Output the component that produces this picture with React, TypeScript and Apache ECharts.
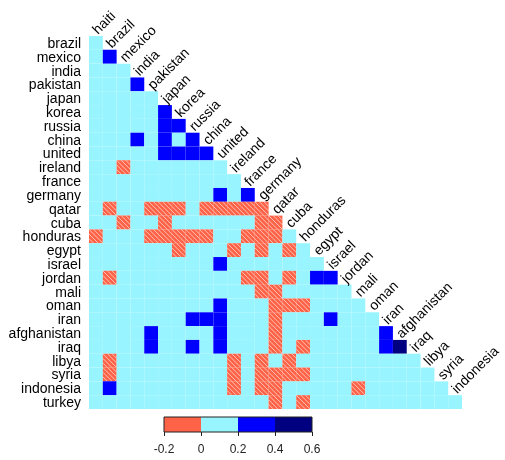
import React, { useEffect, useRef } from "react";
import * as echarts from "echarts";

const rowNames = [
  "brazil", "mexico", "india", "pakistan", "japan", "korea", "russia", "china", "united",
  "ireland", "france", "germany", "qatar", "cuba", "honduras", "egypt", "israel", "jordan",
  "mali", "oman", "iran", "afghanistan", "iraq", "libya", "syria", "indonesia", "turkey",
];

const colNames = [
  "haiti", "brazil", "mexico", "india", "pakistan", "japan", "korea", "russia", "china",
  "united", "ireland", "france", "germany", "qatar", "cuba", "honduras", "egypt", "israel",
  "jordan", "mali", "oman", "iran", "afghanistan", "iraq", "libya", "syria", "indonesia",
];

// lower-triangle values, one array per row (column haiti .. the column before the row)
const rowValues: number[][] = [
  [0.1],
  [0.1, 0.3],
  [0.1, 0.1, 0.1],
  [0.1, 0.1, 0.1, 0.3],
  [0.1, 0.1, 0.1, 0.1, 0.1],
  [0.1, 0.1, 0.1, 0.1, 0.1, 0.3],
  [0.1, 0.1, 0.1, 0.1, 0.1, 0.3, 0.3],
  [0.1, 0.1, 0.1, 0.3, 0.1, 0.3, 0.1, 0.3],
  [0.1, 0.1, 0.1, 0.1, 0.1, 0.3, 0.3, 0.3, 0.3],
  [0.1, 0.1, -0.1, 0.1, 0.1, 0.1, 0.1, 0.1, 0.1, 0.1],
  [0.1, 0.1, 0.1, 0.1, 0.1, 0.1, 0.1, 0.1, 0.1, 0.1, 0.1],
  [0.1, 0.1, 0.1, 0.1, 0.1, 0.1, 0.1, 0.1, 0.1, 0.3, 0.1, 0.3],
  [0.1, -0.1, 0.1, 0.1, -0.1, -0.1, -0.1, 0.1, -0.1, -0.1, -0.1, -0.1, -0.1],
  [0.1, 0.1, -0.1, 0.1, 0.1, -0.1, 0.1, 0.1, 0.1, 0.1, 0.1, 0.1, -0.1, -0.1],
  [-0.1, 0.1, 0.1, 0.1, -0.1, -0.1, -0.1, -0.1, -0.1, 0.1, 0.1, -0.1, -0.1, -0.1, 0.1],
  [0.1, 0.1, 0.1, 0.1, 0.1, 0.1, -0.1, 0.1, 0.1, 0.1, -0.1, 0.1, -0.1, 0.1, -0.1, 0.1],
  [0.1, 0.1, 0.1, 0.1, 0.1, 0.1, 0.1, 0.1, 0.1, 0.3, 0.1, 0.1, 0.1, 0.1, 0.1, 0.1, 0.1],
  [0.1, -0.1, 0.1, 0.1, 0.1, 0.1, 0.1, 0.1, 0.1, 0.1, 0.1, -0.1, -0.1, 0.1, -0.1, 0.1, 0.3, 0.3],
  [0.1, 0.1, 0.1, 0.1, 0.1, 0.1, 0.1, 0.1, 0.1, 0.1, 0.1, 0.1, -0.1, -0.1, 0.1, 0.1, 0.1, 0.1, 0.1],
  [0.1, 0.1, 0.1, 0.1, 0.1, 0.1, 0.1, 0.1, 0.1, 0.3, 0.1, 0.1, 0.1, -0.1, -0.1, -0.1, 0.1, 0.1, 0.1, 0.1],
  [0.1, 0.1, 0.1, 0.1, 0.1, 0.1, 0.1, 0.3, 0.3, 0.3, 0.1, 0.1, 0.1, -0.1, 0.1, 0.1, 0.1, 0.3, 0.1, 0.1, 0.1],
  [0.1, 0.1, 0.1, 0.1, 0.3, 0.1, 0.1, 0.1, 0.1, 0.3, 0.1, 0.1, 0.1, -0.1, 0.1, 0.1, 0.1, 0.1, 0.1, 0.1, 0.1, 0.3],
  [0.1, 0.1, 0.1, 0.1, 0.3, 0.1, 0.1, 0.3, 0.1, 0.3, 0.1, 0.1, 0.1, -0.1, 0.1, -0.1, 0.1, 0.1, 0.1, 0.1, 0.1, 0.3, 0.5],
  [0.1, -0.1, 0.1, 0.1, 0.1, 0.1, 0.1, 0.1, 0.1, 0.1, -0.1, 0.1, -0.1, 0.1, -0.1, 0.1, 0.1, 0.1, 0.1, 0.1, 0.1, 0.1, 0.1, 0.1],
  [0.1, -0.1, 0.1, 0.1, 0.1, 0.1, 0.1, 0.1, 0.1, 0.1, -0.1, 0.1, -0.1, -0.1, -0.1, -0.1, 0.1, 0.1, 0.1, 0.1, 0.1, 0.1, 0.1, 0.1, 0.1],
  [0.1, 0.3, 0.1, 0.1, 0.1, 0.1, 0.1, 0.1, 0.1, 0.1, -0.1, 0.1, -0.1, -0.1, 0.1, 0.1, 0.1, 0.1, 0.1, -0.1, 0.1, 0.1, 0.1, 0.1, 0.1, 0.1],
  [0.1, 0.1, 0.1, 0.1, 0.1, 0.1, 0.1, 0.1, 0.1, 0.1, 0.1, 0.1, 0.1, -0.1, 0.1, -0.1, 0.1, 0.1, 0.1, 0.1, 0.1, 0.1, 0.1, 0.1, 0.1, 0.1, 0.1],
];

const legendBreaks = [-0.2, 0, 0.2, 0.4, 0.6];
const legendColors = ["#FF6347", "#98F5FF", "#0000FF", "#000080"];

const FONT = '"Liberation Sans", Arial, Helvetica, sans-serif';

function binIndex(v: number): number {
  for (let i = 0; i < legendColors.length; i++) {
    if (v < legendBreaks[i + 1]) return i;
  }
  return legendColors.length - 1;
}

export default function App() {
  const ref = useRef<HTMLDivElement>(null);

  useEffect(() => {
    if (!ref.current) return;
    const chart = echarts.init(ref.current, null, { renderer: "svg" });

    const cellData: number[][] = [];
    rowValues.forEach((vals, r) => vals.forEach((v, c) => cellData.push([c, r, v])));
    const labelData = colNames.map((_, i) => [i, i]);
    const legendData = legendColors.map((_, i) => [legendBreaks[i], legendBreaks[i + 1], 0.5, i]);

    chart.setOption({
      animation: false,
      grid: [
        { left: 89, top: 36, width: 373, height: 373, show: false },
        {
          left: 164, top: 417, width: 148, height: 15, show: true,
          borderColor: "#222", borderWidth: 1, backgroundColor: "transparent", z: 10,
        },
      ],
      xAxis: [
        { gridIndex: 0, type: "category", data: colNames, show: false },
        {
          gridIndex: 1, type: "value", min: -0.2, max: 0.6, interval: 0.2,
          axisLine: { show: false },
          axisTick: { show: true, length: 4, lineStyle: { color: "#222" } },
          axisLabel: { margin: 11, fontSize: 12, color: "#222", fontFamily: FONT },
          splitLine: { show: false },
        },
      ],
      yAxis: [
        {
          gridIndex: 0, type: "category", data: rowNames, inverse: true,
          axisLine: { show: false }, axisTick: { show: false }, splitLine: { show: false },
          axisLabel: {
            interval: 0, margin: 8, fontSize: 14, lineHeight: 12,
            color: "#000", fontFamily: FONT,
          },
        },
        { gridIndex: 1, type: "value", min: 0, max: 1, show: false },
      ],
      series: [
        {
          type: "custom",
          xAxisIndex: 0,
          yAxisIndex: 0,
          encode: { x: 0, y: 1 },
          data: cellData,
          renderItem: (params: any, api: any) => {
            const c = api.value(0);
            const r = api.value(1);
            const v = api.value(2);
            const p = api.coord([c, r]);
            const s = api.size([1, 1]);
            const w = s[0];
            const h = s[1];
            const x0 = p[0] - w / 2;
            const y0 = p[1] - h / 2;
            const bi = binIndex(v);
            const children: any[] = [
              { type: "rect", shape: { x: x0, y: y0, width: w, height: h }, style: { fill: legendColors[bi] } },
            ];
            if (v < 0) {
              for (let k = -2; k <= 2; k++) {
                const dx = (k * w) / 3;
                const dy = (k * h) / 3;
                let x1, y1, x2, y2;
                if (k >= 0) {
                  x1 = x0 + dx; y1 = y0; x2 = x0 + w; y2 = y0 + h - dy;
                } else {
                  x1 = x0; y1 = y0 - dy; x2 = x0 + w + dx; y2 = y0 + h;
                }
                children.push({
                  type: "line",
                  shape: { x1, y1, x2, y2 },
                  style: { stroke: "rgba(255,255,255,0.6)", lineWidth: 1 },
                });
              }
            }
            return { type: "group", children };
          },
        },
        {
          type: "custom",
          xAxisIndex: 0,
          yAxisIndex: 0,
          encode: { x: 0, y: 1 },
          data: labelData,
          renderItem: (params: any, api: any) => {
            const c = api.value(0);
            const p = api.coord([c, c]);
            const s = api.size([1, 1]);
            return {
              type: "text",
              x: p[0] - 1.5,
              y: p[1] - s[1] / 2 - 4.5,
              rotation: Math.PI / 4,
              style: {
                text: colNames[c],
                fill: "#000",
                font: `14px ${FONT}`,
                lineHeight: 12,
                align: "left",
                textAlign: "left",
                verticalAlign: "middle",
                textVerticalAlign: "middle",
              },
            };
          },
        },
        {
          type: "custom",
          xAxisIndex: 1,
          yAxisIndex: 1,
          encode: { x: [0, 1], y: 2 },
          data: legendData,
          renderItem: (params: any, api: any) => {
            const lo = api.value(0);
            const hi = api.value(1);
            const i = api.value(3);
            const a = api.coord([lo, 1]);
            const b = api.coord([hi, 0]);
            return {
              type: "rect",
              shape: { x: a[0], y: a[1], width: b[0] - a[0], height: b[1] - a[1] },
              style: { fill: legendColors[i] },
            };
          },
        },
      ],
    });

    return () => {
      chart.dispose();
    };
  }, []);

  return (
    <div
      ref={ref}
      style={{ position: "fixed", left: 0, top: 0, width: 505, height: 460 }}
    />
  );
}
